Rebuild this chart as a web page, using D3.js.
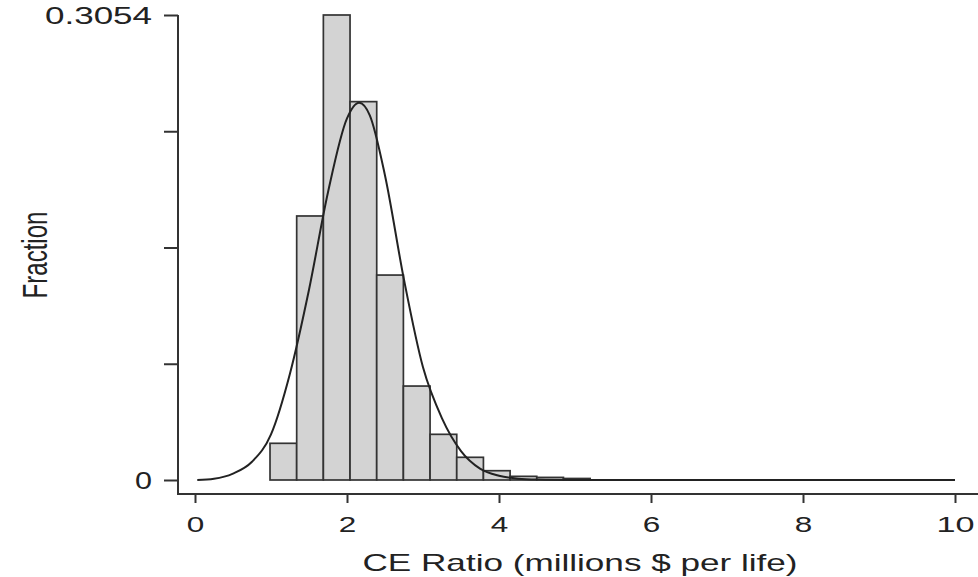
<!DOCTYPE html>
<html>
<head>
<meta charset="utf-8">
<script src="https://cdn.jsdelivr.net/npm/d3@7"></script>
<style>
  html, body { margin: 0; padding: 0; background: #fff; }
  svg { display: block; }
  text { font-family: "Liberation Sans", Arial, sans-serif; fill: #222; }
</style>
</head>
<body>
<div id="chart"></div>
<script>
// histogram bins: left edge of first bin and bin width (millions $ per life)
var binStart = 0.987;
var binWidth = 0.351;
// fraction in each bin
var fractions = [0.0241, 0.1734, 0.3054, 0.2485, 0.1346, 0.0617, 0.0300, 0.0149, 0.0061, 0.0024, 0.0017, 0.0010];

// fitted curve
var curveX = [0.03, 0.25, 0.5, 0.75, 1.0, 1.25, 1.5, 1.75, 2.0, 2.16, 2.3, 2.5, 2.75, 3.0, 3.25, 3.5, 3.75, 4.0, 4.25, 4.5, 5, 6, 8, 10];
var curveY = [0.0000, 0.0008, 0.0042, 0.0120, 0.0300, 0.0700, 0.1250, 0.1890, 0.2375, 0.2478, 0.2395, 0.2000, 0.1315, 0.0740, 0.0405, 0.0190, 0.0075, 0.0028, 0.0009, 0.0003, 0.00005, 0, 0, 0];

var xTicks = [0, 2, 4, 6, 8, 10];
var yTicks = [0, 0.07635, 0.1527, 0.22905, 0.3054];
var yTickLabels = ["0", "", "", "", "0.3054"];

var width = 978, height = 577;
var svg = d3.select("#chart").append("svg")
    .attr("width", width)
    .attr("height", height);

var x = d3.scaleLinear().domain([0, 10]).range([195, 955]);
var y = d3.scaleLinear().domain([0, 0.3054]).range([480, 15]);

var axisX = 178;   // where the y axis sits
var axisY = 494;   // where the x axis sits
var ink = "#333";

// bars
var bins = fractions.map(function(f, i) {
    return {x0: binStart + i * binWidth, x1: binStart + (i + 1) * binWidth, f: f};
});

svg.append("g")
  .selectAll("rect")
  .data(bins)
  .enter()
  .append("rect")
    .attr("x", function(d){ return x(d.x0) })
    .attr("y", function(d){ return y(d.f) })
    .attr("width", function(d){ return x(d.x1) - x(d.x0) })
    .attr("height", function(d){ return y(0) - y(d.f) })
    .attr("fill", "#d3d3d3")
    .attr("stroke", ink)
    .attr("stroke-width", 1.7);

// fitted curve
var pts = curveX.map(function(v, i){ return [v, curveY[i]] });
svg.append("path")
    .datum(pts)
    .attr("fill", "none")
    .attr("stroke", "#222")
    .attr("stroke-width", 2)
    .attr("d", d3.line()
        .x(function(d){ return x(d[0]) })
        .y(function(d){ return y(d[1]) })
        .curve(d3.curveMonotoneX));

// y axis
var gy = svg.append("g")
    .attr("transform", "translate(" + axisX + ",0)")
    .call(d3.axisLeft(y)
        .tickValues(yTicks)
        .tickFormat(function(d, i){ return yTickLabels[i] })
        .tickSize(14)
        .tickSizeOuter(0)
        .tickPadding(12));
gy.select(".domain").remove();
gy.selectAll(".tick line").attr("stroke", ink).attr("stroke-width", 2);
gy.selectAll(".tick text")
    .attr("font-size", 24)
    .attr("dy", "0.36em")
    .attr("textLength", function(d, i){ return i == 4 ? 107 : 17 })
    .attr("lengthAdjust", "spacingAndGlyphs");

// x axis
var gx = svg.append("g")
    .attr("transform", "translate(0," + axisY + ")")
    .call(d3.axisBottom(x)
        .tickValues(xTicks)
        .tickFormat(d3.format("d"))
        .tickSize(9)
        .tickSizeOuter(0)
        .tickPadding(13));
gx.select(".domain").remove();
gx.selectAll(".tick line").attr("stroke", ink).attr("stroke-width", 2);
gx.selectAll(".tick text")
    .attr("font-size", 22.5)
    .attr("textLength", function(d){ return d >= 10 ? 38 : 17.5 })
    .attr("lengthAdjust", "spacingAndGlyphs");

// axis lines meeting in the corner
svg.append("path")
    .attr("d", "M" + axisX + "," + y(0.3054) + "V" + axisY + "H" + width)
    .attr("fill", "none")
    .attr("stroke", ink)
    .attr("stroke-width", 2);

// titles
svg.append("text")
    .attr("x", 580)
    .attr("y", 570.5)
    .attr("text-anchor", "middle")
    .attr("font-size", 24)
    .attr("textLength", 435)
    .attr("lengthAdjust", "spacingAndGlyphs")
    .text("CE Ratio (millions $ per life)");

svg.append("text")
    .attr("transform", "translate(46.5,255) scale(1.5,1) rotate(-90)")
    .attr("text-anchor", "middle")
    .attr("font-size", 24)
    .attr("textLength", 87)
    .attr("lengthAdjust", "spacingAndGlyphs")
    .text("Fraction");
</script>
</body>
</html>
